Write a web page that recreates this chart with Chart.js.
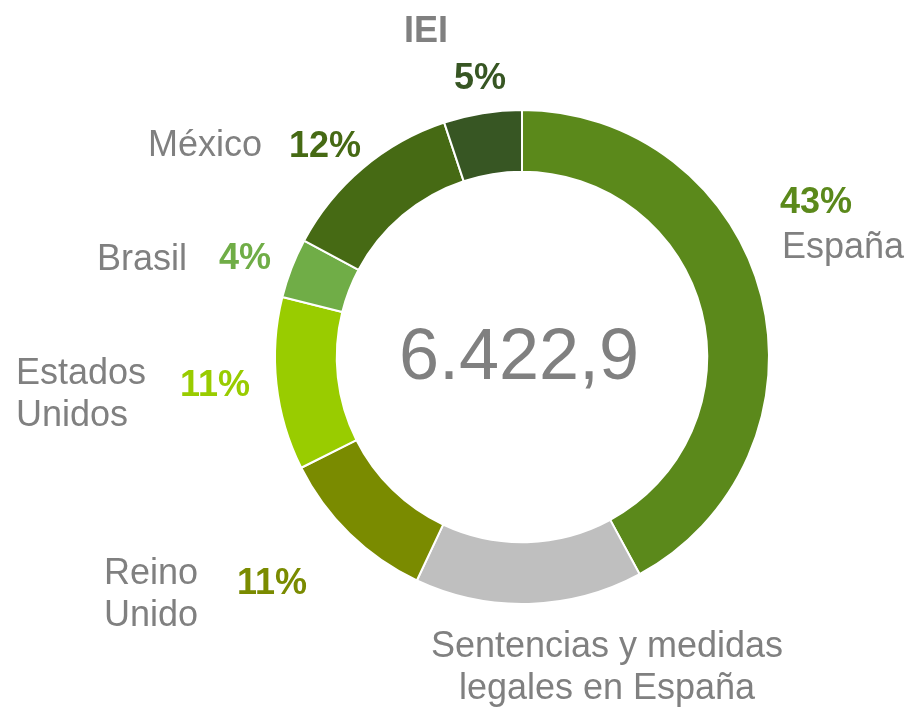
<!DOCTYPE html>
<html>
<head>
<meta charset="utf-8">
<script src="https://cdn.jsdelivr.net/npm/chart.js@4"></script>
<style>
  html, body { margin: 0; padding: 0; background: #fff; }
  #wrap { width: 912px; height: 708px; position: relative; }
</style>
</head>
<body>
<div id="wrap"><canvas id="donut"></canvas></div>
<script>
// data (share of total, %)
const categories = ['España', 'Sentencias y medidas legales en España', 'Reino Unido', 'Estados Unidos', 'Brasil', 'México', 'IEI'];
const shares = [42.1, 14.9, 10.6, 11.3, 3.9, 12.1, 5.1];
const pctLabels = ['43%', '', '11%', '11%', '4%', '12%', '5%'];
const totalLabel = '6.422,9';

const colors = ['#5b891b', '#bfbfbf', '#7a8b00', '#99cc00', '#70ad47', '#466a14', '#375623'];
const GREY = '#808080';
const FONT = "'Liberation Sans', Arial, sans-serif";
const LINE_H = 42;

// label placement, offsets from the ring centre
const nameLayout = [
  { lines: ['España'], dx: 260, dy: -99, align: 'left' },
  { lines: ['Sentencias y medidas', 'legales en España'], dx: 85, dy: 300, align: 'center' },
  { lines: ['Reino', 'Unido'], dx: -418, dy: 227, align: 'left' },
  { lines: ['Estados', 'Unidos'], dx: -506, dy: 27, align: 'left' },
  { lines: ['Brasil'], dx: -335, dy: -87, align: 'right' },
  { lines: ['México'], dx: -260, dy: -201, align: 'right' },
  { lines: ['IEI'], dx: -96, dy: -315, align: 'center', bold: true }
];
const pctLayout = [
  { dx: 258, dy: -144, align: 'left' },
  null,
  { dx: -285, dy: 237, align: 'left' },
  { dx: -342, dy: 39, align: 'left' },
  { dx: -303, dy: -88, align: 'left' },
  { dx: -233, dy: -200, align: 'left' },
  { dx: -42, dy: -268, align: 'center' }
];

const labelPlugin = {
  id: 'donutLabels',
  afterDraw(chart) {
    const arc = chart.getDatasetMeta(0).data[0];
    if (!arc) return;
    const cx = arc.x, cy = arc.y;
    const ctx = chart.ctx;
    ctx.save();
    ctx.textBaseline = 'alphabetic';

    nameLayout.forEach(l => {
      ctx.font = (l.bold ? 'bold ' : '') + '36px ' + FONT;
      ctx.fillStyle = GREY;
      ctx.textAlign = l.align;
      l.lines.forEach((t, i) => ctx.fillText(t, cx + l.dx, cy + l.dy + i * LINE_H));
    });

    ctx.font = 'bold 36px ' + FONT;
    pctLayout.forEach((p, i) => {
      if (!p || !pctLabels[i]) return;
      ctx.fillStyle = colors[i];
      ctx.textAlign = p.align;
      ctx.fillText(pctLabels[i], cx + p.dx, cy + p.dy);
    });

    // total in the middle
    ctx.font = '72px ' + FONT;
    ctx.fillStyle = GREY;
    ctx.textAlign = 'center';
    ctx.fillText(totalLabel, cx - 3, cy + 22);
    ctx.restore();
  }
};

new Chart(document.getElementById('donut').getContext('2d'), {
  type: 'doughnut',
  data: {
    labels: categories,
    datasets: [{
      data: shares,
      backgroundColor: colors,
      borderColor: '#ffffff',
      borderWidth: 2
    }]
  },
  options: {
    responsive: true,
    maintainAspectRatio: false,
    animation: false,
    cutout: '75%',
    layout: { padding: { top: 109, bottom: 103, left: 274, right: 142 } },
    plugins: {
      legend: { display: false },
      tooltip: { enabled: false }
    }
  },
  plugins: [labelPlugin]
});
</script>
</body>
</html>
